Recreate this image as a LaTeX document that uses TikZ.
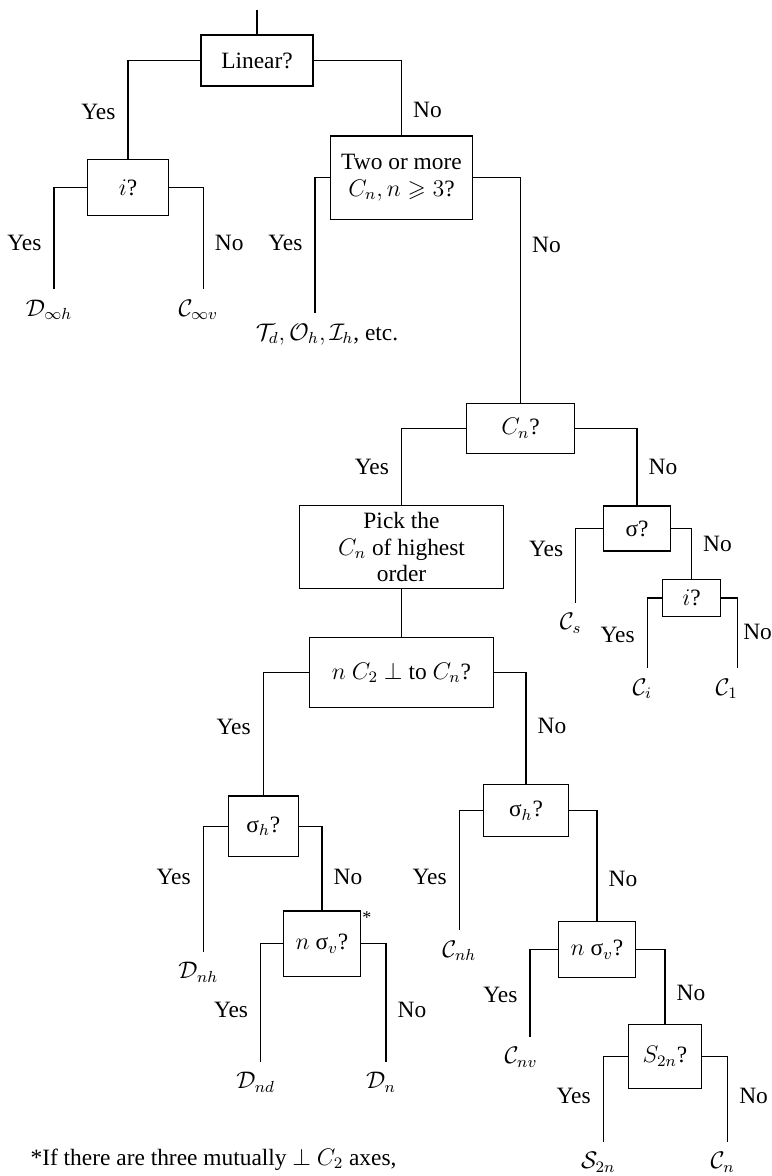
\documentclass[tikz,border=0pt]{standalone}
\usepackage{amsmath,amssymb}
\usepackage{fontspec}
\setmainfont{Liberation Serif}
\usetikzlibrary{positioning}

\begin{document}
\begin{tikzpicture}[
  x=0.5pt, y=-0.5pt,
  font=\fontsize{11.7}{13.2}\selectfont,
  line width=0.6pt,
  qbox/.style={draw, align=center, inner sep=1pt},
  yeslab/.style={left=6pt, inner sep=0pt},
  nolab/.style={right=5.5pt, inner sep=0pt},
  leaf/.style={inner sep=1pt, xshift=-2.5pt}
]
\useasboundingbox (0,0) rectangle (771,1176);
% question boxes
\node[qbox, minimum width=56pt, minimum height=25.5pt] (lin) at (257,60.5) {Linear?};
\node[qbox, minimum width=40.8pt, minimum height=28.2pt] (i1) at (128,187.5) {$i$?};
\node[qbox, minimum width=71.2pt, minimum height=41.7pt] (two) at (401.5,177.7) {Two or more\\$C_n, n\geqslant 3$?};
\node[qbox, minimum width=54.2pt, minimum height=25pt] (cn) at (520.5,428.3) {$C_n$?};
\node[qbox, minimum width=102.2pt, minimum height=41.5pt] (pick) at (401.5,547.2) {Pick the\\$C_n$ of highest\\order};
\node[qbox, minimum width=91.7pt, minimum height=34.8pt] (perp) at (401.5,672.5) {$n$ $C_2$ $\perp$ to $C_n$?};
\node[qbox, minimum width=33.7pt, minimum height=22.5pt] (sig) at (637,528.5) {σ?};
\node[qbox, minimum width=28.7pt, minimum height=18.7pt] (i2) at (691.5,598) {$i$?};
\node[qbox, minimum width=35pt, minimum height=30.3pt] (sh1) at (263.3,826.3) {σ$_h$?};
\node[qbox, minimum width=38.2pt, minimum height=32.8pt,
  label={[anchor=north west, inner sep=0.5pt, font=\small]north east:*}] (nsv1) at (322,943.8) {$n$ σ$_v$?};
\node[qbox, minimum width=42.2pt, minimum height=26.2pt] (sh2) at (526,810.5) {σ$_h$?};
\node[qbox, minimum width=38.3pt, minimum height=28pt] (nsv2) at (597,949.7) {$n$ σ$_v$?};
\node[qbox, minimum width=36.7pt, minimum height=32pt] (s2n) at (665,1056.3) {$S_{2n}$?};

% free ends
\coordinate (root) at (257,10);
\coordinate (e1) at (54,289.3);
\coordinate (e2) at (203.3,289.3);
\coordinate (e3) at (315,313.3);
\coordinate (e4) at (575.7,602.7);
\coordinate (e5) at (647.3,668.3);
\coordinate (e6) at (737.7,668.3);
\coordinate (e7) at (203.3,951.7);
\coordinate (e8) at (260.7,1061.7);
\coordinate (e9) at (386,1061.7);
\coordinate (e10) at (459.3,930);
\coordinate (e11) at (530,1036.7);
\coordinate (e12) at (603.3,1141.7);
\coordinate (e13) at (727.7,1141.7);

% point groups
\node[leaf, below=4pt of e1] (dinfh) {$\mathcal{D}_{\infty h}$};
\node[leaf, below=4pt of e2] (cinfv) {$\mathcal{C}_{\infty v}$};
\node[leaf, below=4pt of e3, xshift=8.5pt] (tdoh) {$\mathcal{T}_d, \mathcal{O}_h, \mathcal{I}_h$, etc.};
\node[leaf, below=4pt of e4] (cs) {$\mathcal{C}_s$};
\node[leaf, below=4pt of e5] (ci) {$\mathcal{C}_i$};
\node[leaf, below=4pt of e6, xshift=-3pt] (c1) {$\mathcal{C}_1$};
\node[leaf, below=4pt of e7] (dnh) {$\mathcal{D}_{nh}$};
\node[leaf, below=4pt of e8] (dnd) {$\mathcal{D}_{nd}$};
\node[leaf, below=4pt of e9] (dn) {$\mathcal{D}_n$};
\node[leaf, below=4pt of e10, xshift=2.5pt] (cnh) {$\mathcal{C}_{nh}$};
\node[leaf, below=4pt of e11, xshift=-2pt] (cnv) {$\mathcal{C}_{nv}$};
\node[leaf, below=4pt of e12] (s2nl) {$\mathcal{S}_{2n}$};
\node[leaf, below=4pt of e13] (cnl) {$\mathcal{C}_n$};

\node[anchor=base west, inner sep=0pt] (note) at (30,1165) {*If there are three mutually $\perp$ $C_2$ axes,};

% branches
\draw (root) -- (lin.north);
\draw (lin.west) -| node[yeslab, pos=.76] {Yes} (i1);
\draw (lin.east) -| node[nolab, pos=.83] {No} (two);
\draw (i1.west) -| node[yeslab, pos=.77] {Yes} (e1);
\draw (i1.east) -| node[nolab, pos=.77] {No} (e2);
\draw (two.west) -| node[yeslab, pos=.74] {Yes} (e3);
\draw (two.east) -| node[nolab, pos=.65] {No} (cn);
\draw (cn.west) -| node[yeslab, pos=.75] {Yes} (pick);
\draw (cn.east) -| node[nolab, pos=.75] {No} (sig);
\draw (pick) -- (perp);
\draw (sig.west) -| node[yeslab, pos=.64] {Yes} (e4);
\draw (sig.east) -| node[nolab, pos=.65] {No} (i2);
\draw (i2.west) -| node[yeslab, pos=.76] {Yes} (e5);
\draw (i2.east) -| node[nolab, pos=.74, right=2.5pt] {No} (e6);
\draw (perp.west) -| node[yeslab, pos=.72] {Yes} (sh1);
\draw (perp.east) -| node[nolab, pos=.74] {No} (sh2);
\draw (sh1.west) -| node[yeslab, pos=.7] {Yes} (e7);
\draw (sh1.east) -| node[nolab, pos=.8] {No} (nsv1);
\draw (nsv1.west) -| node[yeslab, pos=.78] {Yes} (e8);
\draw (nsv1.east) -| node[nolab, pos=.78] {No} (e9);
\draw (sh2.west) -| node[yeslab, pos=.78] {Yes} (e10);
\draw (sh2.east) -| node[nolab, pos=.81] {No} (nsv2);
\draw (nsv2.west) -| node[yeslab, pos=.76] {Yes} (e11);
\draw (nsv2.east) -| node[nolab, pos=.79] {No} (s2n);
\draw (s2n.west) -| node[yeslab, pos=.73] {Yes} (e12);
\draw (s2n.east) -| node[nolab, pos=.73] {No} (e13);
\end{tikzpicture}
\end{document}
